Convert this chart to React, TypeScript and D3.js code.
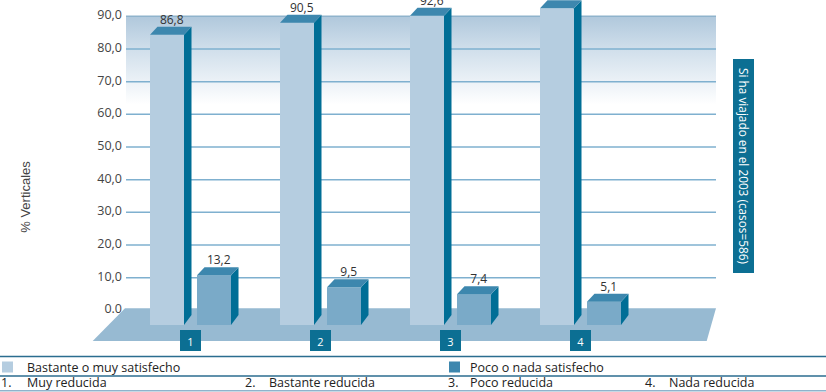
import React from "react";
import * as d3 from "d3";

const categories = ["1", "2", "3", "4"];
const categoryNames = ["Muy reducida", "Bastante reducida", "Poco reducida", "Nada reducida"];
const satisfied = [86.8, 90.5, 92.6, 94.9];
const unsatisfied = [13.2, 9.5, 7.4, 5.1];
const yTicks = [0, 10, 20, 30, 40, 50, 60, 70, 80, 90];
const seriesNames = ["Bastante o muy satisfecho", "Poco o nada satisfecho"];
const sideLabel = "Si ha viajado en el 2003 (casos=586)";
const yTitle = "% Verticales";

const W = 826;
const H = 392;
const DX = 7.5;
const DY = -8;
const FRONT_BOTTOM = 325;
const BAR_W = 34;

const fmt = (v: number) => v.toFixed(1).replace(".", ",");

export default function App() {
  const yBack = d3.scaleLinear().domain([0, 90]).range([310.3, 16.3]);
  const yFront = (v: number) => yBack(v) - DY;
  const x = d3.scalePoint<string>().domain(categories).range([190.5, 580.5]);
  const gridX0 = 126;
  const gridX1 = 716;
  const font = "'Open Sans', 'Noto Sans', sans-serif";

  const bar = (x0: number, v: number, front: string, key: string, label: string) => {
    const yt = yFront(v);
    const yb = FRONT_BOTTOM;
    const x1 = x0 + BAR_W;
    const top = `M${x0},${yt} L${x1},${yt} L${x1 + DX},${yt + DY} L${x0 + DX},${yt + DY} Z`;
    const side = `M${x1},${yt} L${x1 + DX},${yt + DY} L${x1 + DX},${yb + DY - 2} L${x1},${yb} Z`;
    return (
      <g key={key}>
        <rect x={x0} y={yt} width={BAR_W} height={yb - yt} fill={front} />
        <path d={side} fill="#006e96" />
        <path d={top} fill="#3d87ae" />
        <text
          x={x0 + BAR_W / 2 + DX / 2 + 1}
          y={yt + DY - 3}
          textAnchor="middle"
          fontSize={12}
          fill="#333"
          fontFamily={font}
        >
          {label}
        </text>
      </g>
    );
  };

  const numX = [1, 245, 448, 645];
  const nameX = [27, 269, 470, 669];

  return (
    <svg
      width={W}
      height={H}
      style={{ position: "absolute", left: 0, top: 0, background: "#fff" }}
    >
      <defs>
        <linearGradient id="band" x1="0" y1="0" x2="0" y2="1">
          <stop offset="0%" stopColor="#b0c8dc" />
          <stop offset="40%" stopColor="#d2e0ec" />
          <stop offset="100%" stopColor="#ffffff" />
        </linearGradient>
      </defs>

      <rect
        x={gridX0}
        y={yBack(90)}
        width={gridX1 - gridX0}
        height={yBack(63) - yBack(90)}
        fill="url(#band)"
      />

      {yTicks
        .filter((t) => t > 0)
        .map((t) => (
          <line
            key={t}
            x1={gridX0}
            x2={gridX1}
            y1={yBack(t)}
            y2={yBack(t)}
            stroke={t === 90 ? "#8fb3cc" : "#7fb0cf"}
            strokeWidth={1.5}
          />
        ))}

      {yTicks.map((t) => (
        <text
          key={t}
          x={122}
          y={yBack(t) - 1.5}
          textAnchor="end"
          dominantBaseline="central"
          fontSize={12.5}
          fill="#444"
          fontFamily={font}
        >
          {t === 0 ? "0.0" : fmt(t)}
        </text>
      ))}

      <text
        transform={`translate(30,197) rotate(-90)`}
        textAnchor="middle"
        fontSize={13}
        fill="#444"
        fontFamily="'Liberation Sans', Arial, sans-serif"
      >
        {yTitle}
      </text>

      <path
        d={`M${gridX0 - 1},${yBack(0) - 2} L${gridX1},${yBack(0) - 2} L${706.7},341 L${92.7},341 Z`}
        fill="#97bad2"
      />

      {categories.map((c, i) => {
        const cx = x(c)!;
        return (
          <g key={c}>
            {bar(cx - 40.5, satisfied[i], "#b5cde0", "s" + c, fmt(satisfied[i]))}
            {bar(cx + 6.5, unsatisfied[i], "#7aaac8", "u" + c, fmt(unsatisfied[i]))}
            <rect x={cx - 10.5} y={330} width={21} height={21} fill="#0c6f93" />
            <text
              x={cx}
              y={341}
              textAnchor="middle"
              dominantBaseline="central"
              fontSize={11}
              fill="#fff"
              fontFamily={font}
            >
              {c}
            </text>
          </g>
        );
      })}

      <rect x={733} y={59} width={21} height={214} fill="#0c6f93" />
      <text
        transform={`translate(743.5,166) rotate(90)`}
        textAnchor="middle"
        dominantBaseline="central"
        fontSize={11.8}
        fill="#fff"
        fontFamily={font}
      >
        {sideLabel}
      </text>

      <line x1={0} x2={W} y1={356.5} y2={356.5} stroke="#2b6d8f" strokeWidth={1.5} />
      <line x1={0} x2={W} y1={376} y2={376} stroke="#2b6d8f" strokeWidth={1.5} />
      <line x1={0} x2={W} y1={390.7} y2={390.7} stroke="#8fb3cc" strokeWidth={1.5} />

      <rect x={2} y={361.5} width={11} height={11} fill="#b5cde0" />
      <text x={27} y={371.5} fontSize={12.5} fill="#222" fontFamily={font}>
        {seriesNames[0]}
      </text>
      <rect x={449} y={361.5} width={11} height={11} fill="#3d87ae" />
      <text x={470} y={371.5} fontSize={12.5} fill="#222" fontFamily={font}>
        {seriesNames[1]}
      </text>

      {categoryNames.map((n, i) => (
        <g key={n}>
          <text x={numX[i]} y={387} fontSize={12.5} fill="#222" fontFamily={font}>
            {categories[i] + "."}
          </text>
          <text x={nameX[i]} y={387} fontSize={12.5} fill="#222" fontFamily={font}>
            {n}
          </text>
        </g>
      ))}
    </svg>
  );
}
